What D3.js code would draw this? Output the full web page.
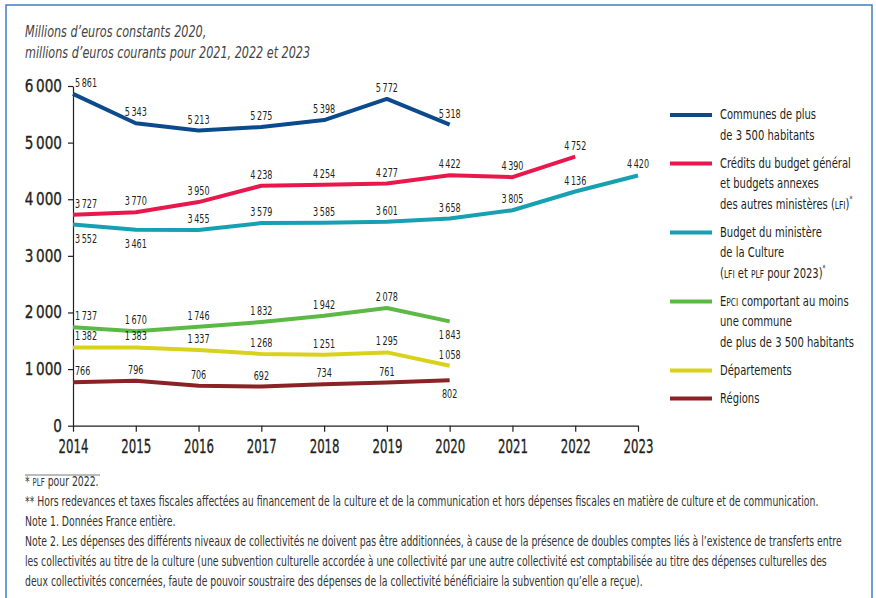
<!DOCTYPE html>
<html>
<head>
<meta charset="utf-8">
<script src="https://cdn.jsdelivr.net/npm/d3@7"></script>
<style>
  body { margin: 0; background: #fff; }
  text { font-family: "DejaVu Sans", sans-serif; fill: #231f20; }
</style>
</head>
<body>
<svg id="chart" width="876" height="598"></svg>
<script>
// values
const years = [2014, 2015, 2016, 2017, 2018, 2019, 2020, 2021, 2022, 2023];
const communes = [5861, 5343, 5213, 5275, 5398, 5772, 5318];
const credits = [3727, 3770, 3950, 4238, 4254, 4277, 4422, 4390, 4752];
const culture = [3552, 3461, 3455, 3579, 3585, 3601, 3658, 3805, 4136, 4420];
const epci = [1737, 1670, 1746, 1832, 1942, 2078, 1843];
const departements = [1382, 1383, 1337, 1268, 1251, 1295, 1058];
const regions = [766, 796, 706, 692, 734, 761, 802];
const yTicks = [0, 1000, 2000, 3000, 4000, 5000, 6000];

// legend text, each line a list of [text, kind] pieces
const series = [
  {values: communes, color: "#0c4a8e", below: [],
   legend: [[["Communes de plus"]], [["de 3 500 habitants"]]]},
  {values: credits, color: "#e8184c", below: [],
   legend: [[["Crédits du budget général"]], [["et budgets annexes"]],
            [["des autres ministères ("], ["LFI", "sc"], [")"], ["*", "sup"]]]},
  {values: culture, color: "#17a0b2", below: [0, 1],
   legend: [[["Budget du ministère"]], [["de la Culture"]],
            [["("], ["LFI", "sc"], [" et "], ["PLF", "sc"], [" pour 2023)"], ["*", "sup"]]]},
  {values: epci, color: "#5cb946", below: [6],
   legend: [[["E"], ["PCI", "sc"], [" comportant au moins"]], [["une commune"]], [["de plus de 3 500 habitants"]]]},
  {values: departements, color: "#d9d21c", below: [],
   legend: [[["Départements"]]]},
  {values: regions, color: "#8b2326", below: [6],
   legend: [[["Régions"]]]}
];

const notes = [
  [["* "], ["PLF", "sc"], [" pour 2022."]],
  [["** Hors redevances et taxes fiscales affectées au financement de la culture et de la communication et hors dépenses fiscales en matière de culture et de communication."]],
  [["Note 1. Données France entière."]],
  [["Note 2. Les dépenses des différents niveaux de collectivités ne doivent pas être additionnées, à cause de la présence de doubles comptes liés à l’existence de transferts entre"]],
  [["les collectivités au titre de la culture (une subvention culturelle accordée à une collectivité par une autre collectivité est comptabilisée au titre des dépenses culturelles des"]],
  [["deux collectivités concernées, faute de pouvoir soustraire des dépenses de la collectivité bénéficiaire la subvention qu’elle a reçue)."]]
];

let svg = d3.select("#chart");
let fr = d3.formatLocale({decimal: ",", thousands: "\u2009", grouping: [3], currency: ["", " €"]});
let fmt = fr.format(",d");

let x = d3.scaleLinear().domain([2014, 2023]).range([73, 638]),
    y = d3.scaleLinear().domain([0, 6000]).range([425.7, 86]);

// the original face is a condensed one, so squeeze the text sideways
function squeeze(sel, sx) {
  sel.each(function() {
    let t = d3.select(this);
    let x0 = +t.attr("x") || 0, y0 = +t.attr("y") || 0;
    t.attr("transform", `translate(${x0},${y0}) scale(${sx},1)`).attr("x", 0).attr("y", 0);
  });
}

// frame
svg.append("rect")
  .attr("x", 6).attr("y", 5).attr("width", 866).attr("height", 600)
  .attr("fill", "none").attr("stroke", "#3f7fc2").attr("stroke-width", 1.5);

// title
svg.append("g").selectAll("text")
  .data(["Millions d’euros constants 2020,", "millions d’euros courants pour 2021, 2022 et 2023"])
  .join("text")
  .attr("x", 25).attr("y", (d, i) => 37 + i * 21)
  .attr("font-size", 16.5).attr("font-style", "italic").style("fill", "#444")
  .text(d => d)
  .call(squeeze, 0.68);

// axes
let yAxis = svg.append("g").attr("transform", `translate(${x(2014)},0)`)
  .call(d3.axisLeft(y).tickValues(yTicks).tickSize(5).tickSizeOuter(0).tickFormat(fmt));
let xAxis = svg.append("g").attr("transform", `translate(0,${y(0)})`)
  .call(d3.axisBottom(x).tickValues(years).tickSize(6).tickSizeOuter(0).tickFormat(d => d));

[yAxis, xAxis].forEach(a => {
  a.selectAll("path, line").attr("stroke", "#231f20").attr("stroke-width", 1.2);
  a.selectAll("text").attr("font-family", null).style("fill", "#231f20")
    .attr("stroke", "#231f20").attr("stroke-width", 0.35);
});
yAxis.selectAll("text").attr("x", -11).attr("font-size", 17).call(squeeze, 0.8);
xAxis.selectAll("text").attr("y", 14).attr("font-size", 19).call(squeeze, 0.62);

// lines and value labels
let line = d3.line().x(d => x(d.year)).y(d => y(d.value));
series.forEach(s => {
  let pts = s.values.map((v, i) => ({year: years[i], value: v, i: i}));
  svg.append("path").datum(pts)
    .attr("d", line)
    .attr("fill", "none").attr("stroke", s.color)
    .attr("stroke-width", 4).attr("stroke-linejoin", "round");
  svg.append("g").selectAll("text").data(pts).join("text")
    .attr("x", d => d.i == 0 ? x(d.year) + 2 : x(d.year))
    .attr("y", d => s.below.includes(d.i) ? y(d.value) + 18 : y(d.value) - 7)
    .attr("text-anchor", d => d.i == 0 ? "start" : "middle")
    .attr("font-size", 11.5)
    .text(d => fmt(d.value))
    .call(squeeze, 0.7);
});

function rich(sel, pieces, size) {
  pieces.forEach(p => {
    let t = sel.append("tspan").text(p[0]);
    if (p[1] == "sc") t.attr("font-size", size * 0.75);
    if (p[1] == "sup") t.attr("font-size", size * 0.6).attr("dy", -size * 0.45);
  });
}

// legend
let ly = 114;
series.forEach(s => {
  svg.append("line")
    .attr("x1", 670).attr("x2", 712).attr("y1", ly + 1).attr("y2", ly + 1)
    .attr("stroke", s.color).attr("stroke-width", 4);
  s.legend.forEach((ln, j) => {
    let t = svg.append("text").attr("x", 720).attr("y", ly + j * 20.5 + 5).attr("font-size", 14.5);
    rich(t, ln, 14.5);
    squeeze(t, 0.69);
  });
  ly += (s.legend.length - 1) * 20.5 + 28;
});

// notes
svg.append("line").attr("x1", 25).attr("x2", 100).attr("y1", 475).attr("y2", 475)
  .attr("stroke", "#555").attr("stroke-width", 0.8);
notes.forEach((ln, j) => {
  let t = svg.append("text").attr("x", 25).attr("y", 486 + j * 20).attr("font-size", 13.5).style("fill", "#333");
  rich(t, ln, 13.5);
  squeeze(t, 0.69);
});
</script>
</body>
</html>
